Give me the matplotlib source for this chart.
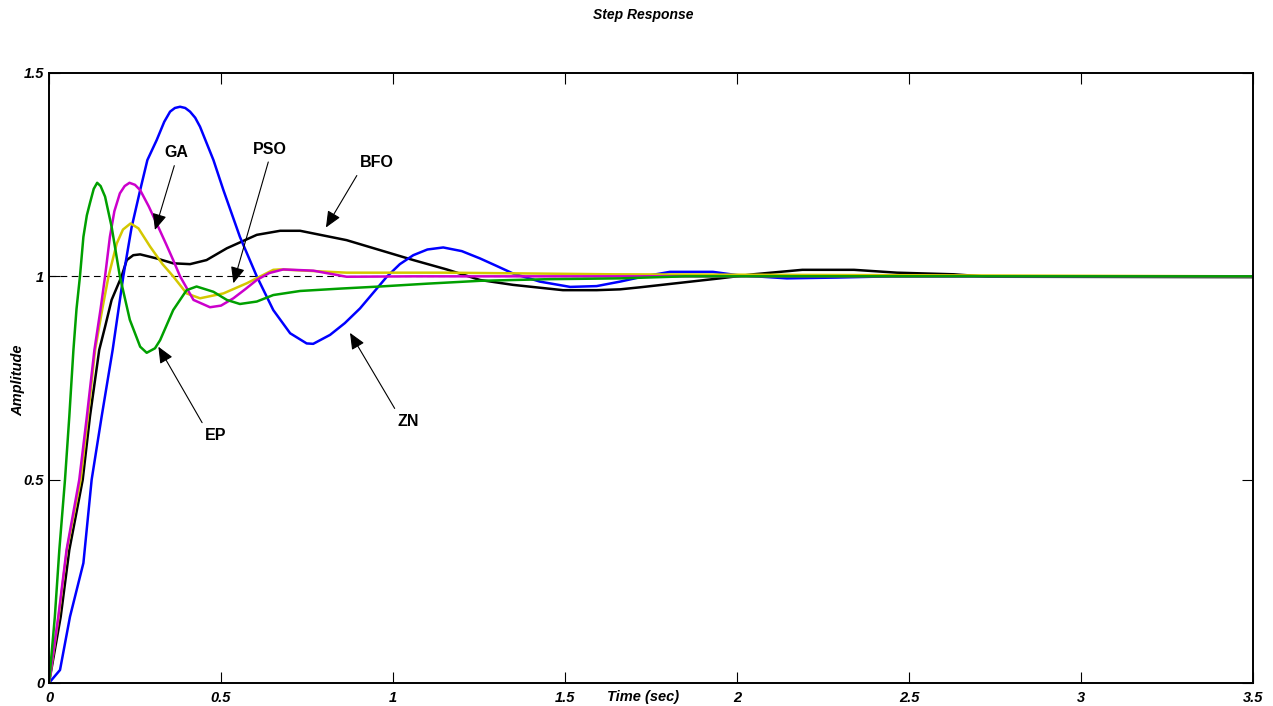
import numpy as np
import matplotlib
matplotlib.use("Agg")
import matplotlib.pyplot as plt

plt.rcParams["font.family"] = ["Liberation Sans", "DejaVu Sans"]

# step responses of the tuned controllers (time in sec, amplitude)
t_zn = [0, 0.032, 0.061, 0.1, 0.124, 0.153, 0.185, 0.216, 0.24, 0.265, 0.286, 0.313,
        0.335, 0.352, 0.366, 0.381, 0.396, 0.41, 0.425, 0.439, 0.478, 0.507, 0.555,
        0.604, 0.652, 0.701, 0.749, 0.768, 0.817, 0.86, 0.904, 0.945, 0.982, 1.02,
        1.059, 1.1, 1.146, 1.2, 1.253, 1.3, 1.349, 1.427, 1.515, 1.592, 1.66, 1.73,
        1.805, 1.93, 2.0, 2.145, 2.29, 2.45, 3.5]
y_zn = [0, 0.032, 0.163, 0.295, 0.5, 0.655, 0.819, 1.0, 1.12, 1.212, 1.286, 1.335,
        1.38, 1.405, 1.414, 1.417, 1.414, 1.405, 1.39, 1.368, 1.286, 1.212, 1.097,
        1.0, 0.917, 0.86, 0.835, 0.834, 0.856, 0.885, 0.921, 0.962, 0.999, 1.03,
        1.052, 1.066, 1.071, 1.062, 1.044, 1.026, 1.007, 0.987, 0.974, 0.976, 0.987,
        1.0, 1.011, 1.011, 1.003, 0.995, 0.997, 1.0, 1.0]

t_ep = [0, 0.017, 0.03, 0.0465, 0.059, 0.071, 0.08, 0.09, 0.1, 0.11, 0.119, 0.13,
        0.14, 0.15, 0.163, 0.182, 0.206, 0.235, 0.265, 0.284, 0.308, 0.323, 0.361,
        0.4, 0.429, 0.478, 0.517, 0.555, 0.604, 0.652, 0.73, 0.85, 0.962, 1.1, 1.253,
        1.45, 1.66, 1.85, 3.5]
y_ep = [0, 0.163, 0.327, 0.5, 0.655, 0.819, 0.92, 1.0, 1.097, 1.15, 1.18, 1.215,
        1.23, 1.222, 1.196, 1.122, 1.0, 0.893, 0.827, 0.812, 0.823, 0.843, 0.917,
        0.966, 0.975, 0.962, 0.942, 0.932, 0.938, 0.954, 0.964, 0.97, 0.975, 0.982,
        0.989, 0.993, 0.995, 1.0, 1.0]

t_ga = [0, 0.027, 0.051, 0.088, 0.11, 0.132, 0.15, 0.163, 0.177, 0.19, 0.206, 0.22,
        0.234, 0.25, 0.265, 0.29, 0.313, 0.34, 0.361, 0.381, 0.42, 0.468, 0.5, 0.536,
        0.57, 0.604, 0.64, 0.681, 0.768, 0.865, 1.06, 3.5]
y_ga = [0, 0.163, 0.327, 0.5, 0.655, 0.819, 0.92, 1.0, 1.097, 1.16, 1.204, 1.222,
        1.23, 1.225, 1.212, 1.172, 1.13, 1.08, 1.04, 1.0, 0.942, 0.924, 0.928, 0.946,
        0.968, 0.991, 1.008, 1.017, 1.014, 0.999, 1.0, 1.0]

t_pso = [0, 0.028, 0.052, 0.092, 0.113, 0.134, 0.155, 0.173, 0.197, 0.215, 0.237,
         0.26, 0.294, 0.33, 0.361, 0.4, 0.439, 0.507, 0.575, 0.652, 0.672, 0.865,
         1.156, 1.64, 3.5]
y_pso = [0, 0.163, 0.327, 0.5, 0.655, 0.819, 0.92, 1.0, 1.081, 1.115, 1.13, 1.118,
         1.073, 1.03, 1.0, 0.958, 0.946, 0.958, 0.983, 1.016, 1.017, 1.009, 1.009,
         1.005, 1.0]

t_bfo = [0, 0.034, 0.059, 0.098, 0.119, 0.146, 0.163, 0.182, 0.211, 0.226, 0.245,
         0.265, 0.313, 0.361, 0.41, 0.458, 0.517, 0.604, 0.672, 0.73, 0.865, 1.059,
         1.156, 1.253, 1.349, 1.494, 1.592, 1.66, 1.718, 1.95, 2.047, 2.19, 2.34,
         2.465, 2.63, 2.73, 3.5]
y_bfo = [0, 0.163, 0.327, 0.5, 0.655, 0.819, 0.876, 0.942, 1.0, 1.04, 1.052, 1.054,
         1.044, 1.032, 1.03, 1.04, 1.069, 1.102, 1.112, 1.112, 1.089, 1.04, 1.017,
         0.991, 0.979, 0.966, 0.966, 0.968, 0.973, 0.995, 1.005, 1.016, 1.016, 1.009,
         1.005, 0.999, 0.998]

fig = plt.figure(figsize=(12.73, 7.06), dpi=100)
ax = fig.add_axes([49 / 1273, 23 / 706, 1204 / 1273, 610 / 706])

ax.plot([0, 3.5], [1, 1], color="k", lw=0.8, ls=(0, (6, 4)))
ax.plot(t_bfo, y_bfo, color="k", lw=1.8)
ax.plot(t_zn, y_zn, color="#0000ff", lw=1.8)
ax.plot(t_pso, y_pso, color="#d4c800", lw=1.8)
ax.plot(t_ga, y_ga, color="#cc00cc", lw=1.8)
ax.plot(t_ep, y_ep, color="#00a000", lw=1.8)

ax.set_xlim(0, 3.5)
ax.set_ylim(0, 1.5)
ax.set_xticks([0, 0.5, 1, 1.5, 2, 2.5, 3, 3.5])
ax.set_xticklabels(["0", "0.5", "1", "1.5", "2", "2.5", "3", "3.5"])
ax.set_yticks([0, 0.5, 1, 1.5])
ax.set_yticklabels(["0", "0.5", "1", "1.5"])
ax.tick_params(direction="in", length=8, width=0.8, top=True, right=True,
               labelsize=10.5)
ax.tick_params(axis="x", pad=5.5)
ax.tick_params(axis="y", pad=3.5)
for lab in ax.get_xticklabels() + ax.get_yticklabels():
    lab.set_fontweight("bold")
    lab.set_fontstyle("italic")
for sp in ax.spines.values():
    sp.set_linewidth(1.4)

lbl = dict(fontsize=10.5, fontweight="bold", fontstyle="italic")
ax.text(0.493, -0.0225, "Time (sec)", transform=ax.transAxes, ha="center",
        va="center", **lbl)
fig.text(18 / 1273, 1 - 380 / 706, "Amplitude", rotation=90, ha="center",
         va="center", **lbl)
fig.text(643 / 1273, 1 - 15 / 706, "Step Response", ha="center", va="center",
         fontsize=10, fontweight="bold", fontstyle="italic")

arrow = dict(arrowstyle="-|>,head_length=0.55,head_width=0.24", color="k",
             lw=0.8, mutation_scale=18, shrinkA=2, shrinkB=0)
ann = dict(fontsize=11.5, fontweight="bold", ha="center", va="center")
ax.annotate("GA", xy=(0.308, 1.114), xytext=(0.369, 1.304),
            arrowprops=dict(arrow, relpos=(0.5, 0)), **ann)
ax.annotate("PSO", xy=(0.536, 0.983), xytext=(0.642, 1.313),
            arrowprops=dict(arrow, relpos=(0.5, 0)), **ann)
ax.annotate("BFO", xy=(0.805, 1.120), xytext=(0.953, 1.279),
            arrowprops=dict(arrow, relpos=(0, 0)), **ann)
ax.annotate("EP", xy=(0.318, 0.827), xytext=(0.485, 0.609),
            arrowprops=dict(arrow, relpos=(0, 1)), **ann)
ax.annotate("ZN", xy=(0.875, 0.861), xytext=(1.045, 0.644),
            arrowprops=dict(arrow, relpos=(0, 1)), **ann)

fig.savefig("out.png", dpi=100)
